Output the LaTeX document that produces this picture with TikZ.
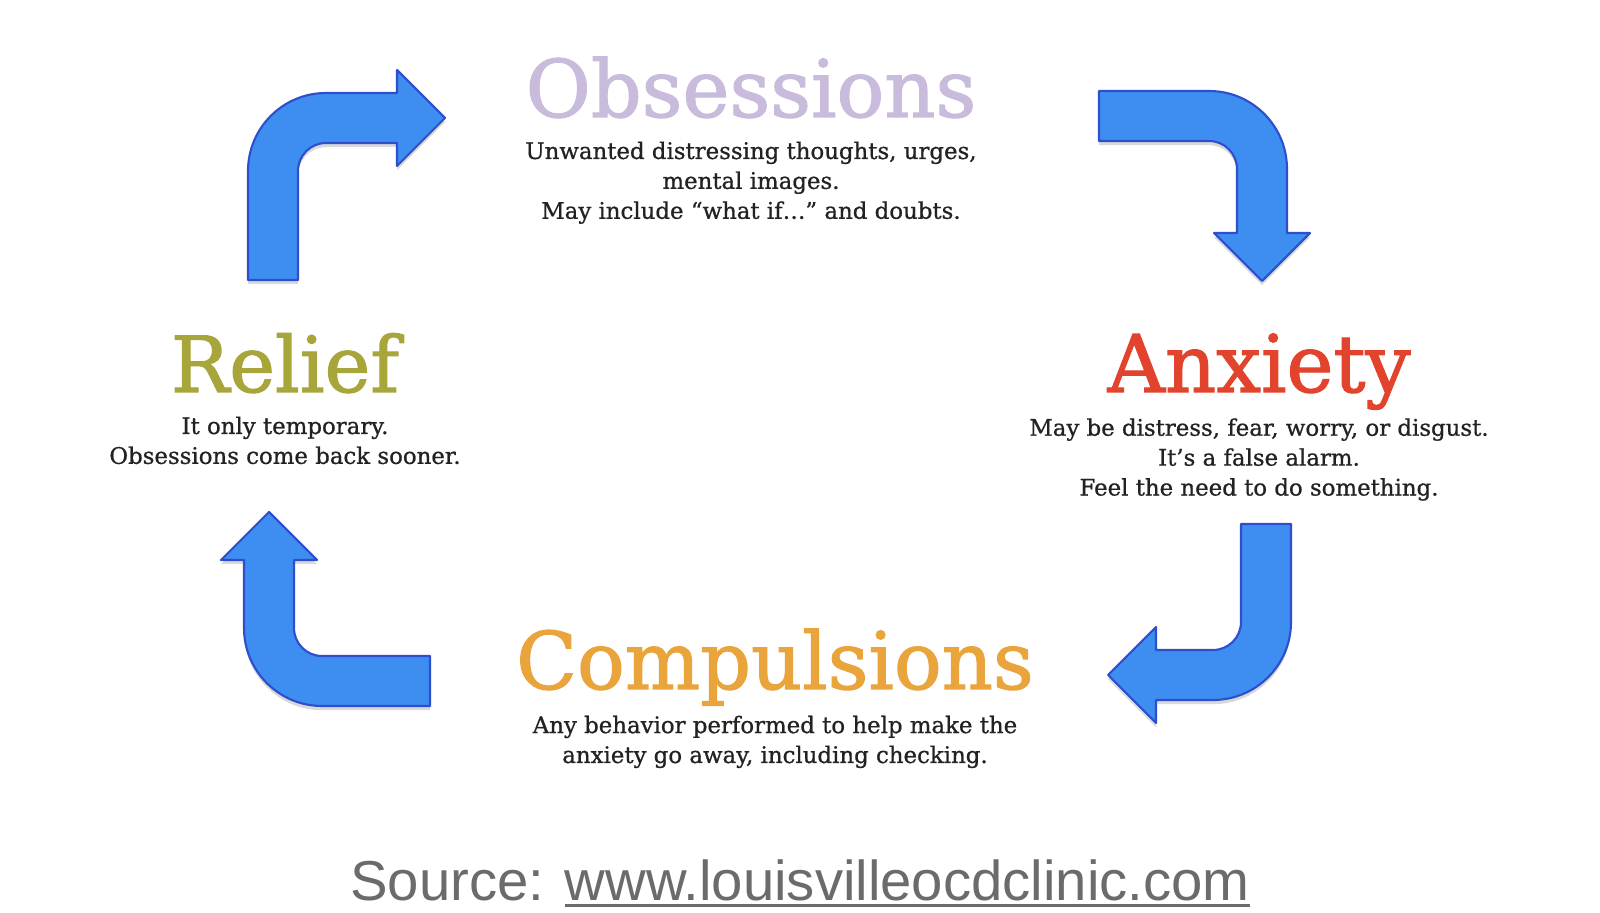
\documentclass[tikz,border=0pt]{standalone}
\usepackage{fontspec}
\setmainfont{DejaVu Serif}
\newfontfamily\titlefont[FakeBold=1.5]{DejaVu Serif}
\newfontfamily\bodyfont[FakeBold=0.8]{DejaVu Serif}
\newfontfamily\srcfont{Liberation Sans}
\usetikzlibrary{positioning}
\definecolor{ink}{HTML}{222222}
\definecolor{obsc}{HTML}{C8BBDB}
\definecolor{anxc}{HTML}{E2432D}
\definecolor{compc}{HTML}{E9A43B}
\definecolor{relc}{HTML}{A8A63A}
\definecolor{arrfill}{HTML}{3D8EF0}
\definecolor{arredge}{HTML}{2F4ECC}
\definecolor{srcc}{HTML}{6B6B6B}
\newcommand{\srcul}[1]{\leavevmode\vtop{\hbox{#1}\kern1.1pt\hrule height 0.8pt}}
\tikzset{
  ocbase/.style   = {inner sep=0pt, text=ink},
  octitle/.style  = {ocbase, anchor=base, font=\titlefont\fontsize{22.6}{26}\selectfont},
  ocbody/.style   = {ocbase, align=center, font=\bodyfont\fontsize{6.5}{8.5}\selectfont},
  ocsrc/.style    = {ocbase, anchor=base, text=srcc, font=\srcfont\fontsize{16}{19}\selectfont},
  ocarrow/.style  = {fill=arrfill, draw=arredge, line width=0.6pt, line join=round,
                     preaction={fill=black, opacity=0.15, transform canvas={yshift=-1.2pt}}},
  % bent block arrow: #1 = run up to the bend, #2 = where the head starts
  pics/bentarr/.style 2 args = {code={
    \path[ocarrow] (-25,0) -- (-25,#1-53)
      arc[start angle=180, end angle=90, radius=78] -- (#2,#1+25) -- (#2,#1+48)
      -- (#2+48,#1) -- (#2,#1-48) -- (#2,#1-25) -- (53,#1-25)
      arc[start angle=90, end angle=180, radius=28] -- (25,0) -- cycle;
  }},
}

\begin{document}
\begin{tikzpicture}[x=0.01cm, y=0.01cm]
\path[fill=white] (0,0) rectangle (1600,912);
\useasboundingbox (0,0) rectangle (1600,912);

\node[octitle, text=obsc] (obs) at (751,795) {Obsessions};
\node[ocbody, below=6.8pt of obs.base] (obstxt)
  {Unwanted distressing thoughts, urges,\\mental images.\\May include “what if…” and doubts.};

\node[octitle, text=anxc] (anx) at (1259,520) {Anxiety};
\node[ocbody, below=7.3pt of anx.base] (anxtxt)
  {May be distress, fear, worry, or disgust.\\It’s a false alarm.\\Feel the need to do something.};

\node[octitle, text=compc] (comp) at (775,223) {Compulsions};
\node[ocbody, below=7.4pt of comp.base] (comptxt)
  {Any behavior performed to help make the\\anxiety go away, including checking.};

\node[octitle, text=relc, font=\titlefont\fontsize{22}{26}\selectfont] (rel) at (285,520) {Relief};
\node[ocbody, below=6.8pt of rel.base] (reltxt)
  {It only temporary.\\Obsessions come back sooner.};

\pic at (273,632) {bentarr={162}{124}};
\pic[rotate=-90] at (1099,796) {bentarr={163}{117}};
\pic[rotate=180] at (1266,388) {bentarr={151}{110}};
\pic[rotate=90] at (430,231) {bentarr={161}{121}};

\node[ocsrc] (src) at (800,12) {Source: \srcul{www.louisvilleocdclinic.com}};
\end{tikzpicture}
\end{document}
